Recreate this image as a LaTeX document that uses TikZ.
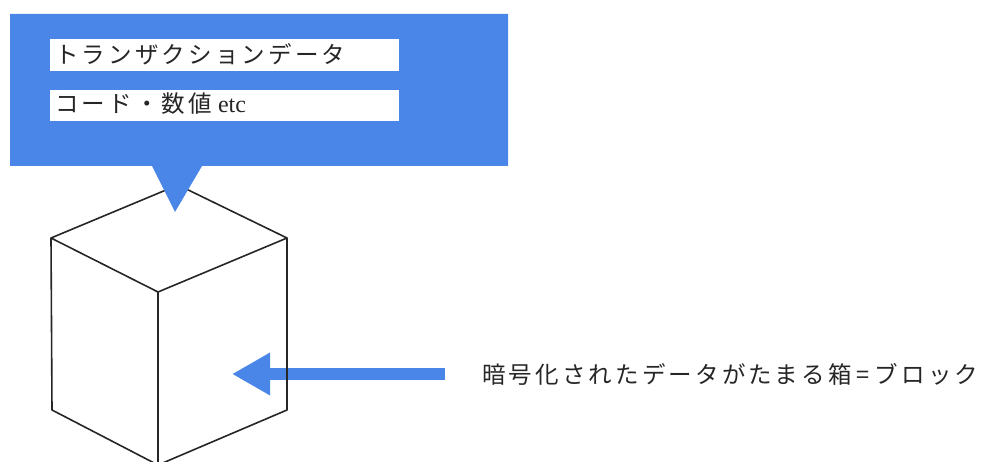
\documentclass[tikz,border=0pt]{standalone}
\usepackage{fontspec}
\setmainfont{Liberation Serif}
\newfontfamily\jp{Noto Sans CJK JP}[LetterSpace=13.5]
\usetikzlibrary{arrows.meta}
\definecolor{calloutblue}{HTML}{4A86E8}
\tikzset{
  cubeedge/.style={draw=black!85, line width=1.6pt, line join=round},
  whitebar/.style={fill=white, draw=none},
  jptext/.style={inner sep=0pt, anchor=west, font=\jp\fontsize{23.5}{26}\selectfont, text=black!85},
  bluearrow/.style={draw=calloutblue, line width=12pt, -{Triangle[length=38pt,width=40pt]}}
}
\begin{document}
\begin{tikzpicture}[x=1pt,y=1pt]
\useasboundingbox (0,0) rectangle (998,461);
% arrow
\coordinate (arrstart) at (445,87);
\coordinate (arrtip) at (232,87);
\draw[bluearrow] (arrstart) -- (arrtip);
% cube
\coordinate (ctop) at (178,276);
\coordinate (cleft) at (51,223);
\coordinate (cright) at (287,223);
\coordinate (cfront) at (158,169);
\coordinate (clb) at (52,51);
\coordinate (crb) at (287,51);
\coordinate (cfb) at (158,-4);
\draw[cubeedge] (cleft) -- (ctop) -- (cright) -- (cfront) -- cycle;
\draw[cubeedge] (cleft) -- (clb) -- (cfb) -- (crb) -- (cright);
\draw[cubeedge] (cfront) -- (cfb);
% callout
\fill[calloutblue] (10,447) -- (508,447) -- (508,295) -- (202,295) -- (175,249) -- (152,295) -- (10,295) -- cycle;
\fill[whitebar] (50,390) rectangle (399,422);
\fill[whitebar] (50,340) rectangle (399,371);
\node[jptext] (t1) at (55,407) {トランザクションデータ};
\node[jptext] (t2) at (55,357) {コード・数値{\rmfamily\fontsize{24}{26}\selectfont\ etc}};
\node[jptext] (t3) at (482,87) {暗号化されたデータがたまる箱\hspace{5pt}=\hspace{5pt}ブロック};
\end{tikzpicture}
\end{document}
